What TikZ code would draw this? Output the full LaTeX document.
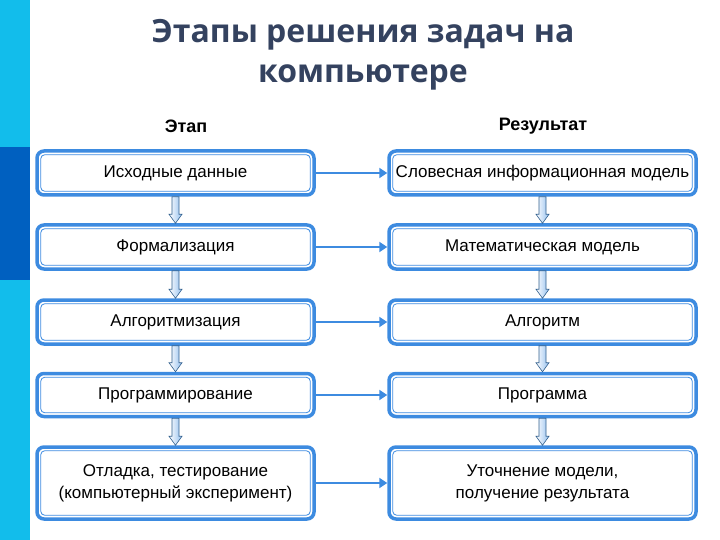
\documentclass[tikz,border=0pt]{standalone}
\usepackage{fontspec}
\setmainfont{Liberation Sans}
\newfontfamily\titlefont{Open Sans}
\usetikzlibrary{arrows.meta}
\definecolor{bblue}{HTML}{3D8BE0}
\definecolor{cyanbar}{HTML}{12BDEB}
\definecolor{darkbar}{HTML}{0060C0}
\definecolor{ttl}{HTML}{34425F}
\tikzset{
 box/.style={draw=bblue,line width=3.5pt,rounded corners=7pt,inner sep=0pt,font=\fontsize{17}{22}\selectfont,align=center},
 inbox/.style={draw=bblue,line width=0.8pt,rounded corners=4pt},
 darr/.style={draw=darkbar!60!black!80,line width=0.6pt,left color=white,right color=bblue!55},
 harr/.style={draw=bblue,line width=2pt,-{Triangle[length=8pt,width=10pt]}}
}
\begin{document}
\begin{tikzpicture}[x=1pt,y=-1pt]
\useasboundingbox (0,0) rectangle (720,540);
\fill[cyanbar] (0,0) rectangle (30,540);
\fill[darkbar] (0,147) rectangle (30,280);
\node[font=\titlefont\bfseries\fontsize{32}{40}\selectfont,text=ttl,align=center] (title) at (363,55) {Этапы решения задач на\\компьютере};
\node[font=\bfseries\fontsize{18}{20}\selectfont] (h1) at (186,126) {Этап};
\node[font=\bfseries\fontsize{18}{20}\selectfont] (h2) at (543,126) {Результат};
\foreach \n/\y/\h/\lt/\rt in {
 1/173/44/{Исходные данные}/{Словесная информационная модель},
 2/247/44/{Формализация}/{Математическая модель},
 3/322/44/{Алгоритмизация}/{Алгоритм},
 4/395/43/{Программирование}/{Программа},
 5/483/72/{Отладка, тестирование\\(компьютерный эксперимент)}/{Уточнение модели,\\получение результата}}{
 \node[box,minimum width=277pt,minimum height=\h pt] (l\n) at (175.5,\y) {\lt};
 \node[box,minimum width=307pt,minimum height=\h pt] (r\n) at (542.5,\y) {\rt};
 \draw[inbox] ([shift={(5.5,5.5)}]l\n.north west) rectangle ([shift={(-5.5,-5.5)}]l\n.south east);
 \draw[inbox] ([shift={(5.5,5.5)}]r\n.north west) rectangle ([shift={(-5.5,-5.5)}]r\n.south east);
 \draw[harr] (l\n.east) -- (r\n.west);
}
\foreach \a/\b in {1/2,2/3,3/4,4/5}{
 \foreach \s in {l,r}{
 \path (\s\a.south) coordinate (t) (\s\b.north) coordinate (b);
 \draw[darr] ([xshift=-3.5pt]t) -- ([xshift=-3.5pt,yshift=9pt]b) -- ([xshift=-6.5pt,yshift=9pt]b) -- (b) -- ([xshift=6.5pt,yshift=9pt]b) -- ([xshift=3.5pt,yshift=9pt]b) -- ([xshift=3.5pt]t) -- cycle;
 }
}
\end{tikzpicture}
\end{document}
